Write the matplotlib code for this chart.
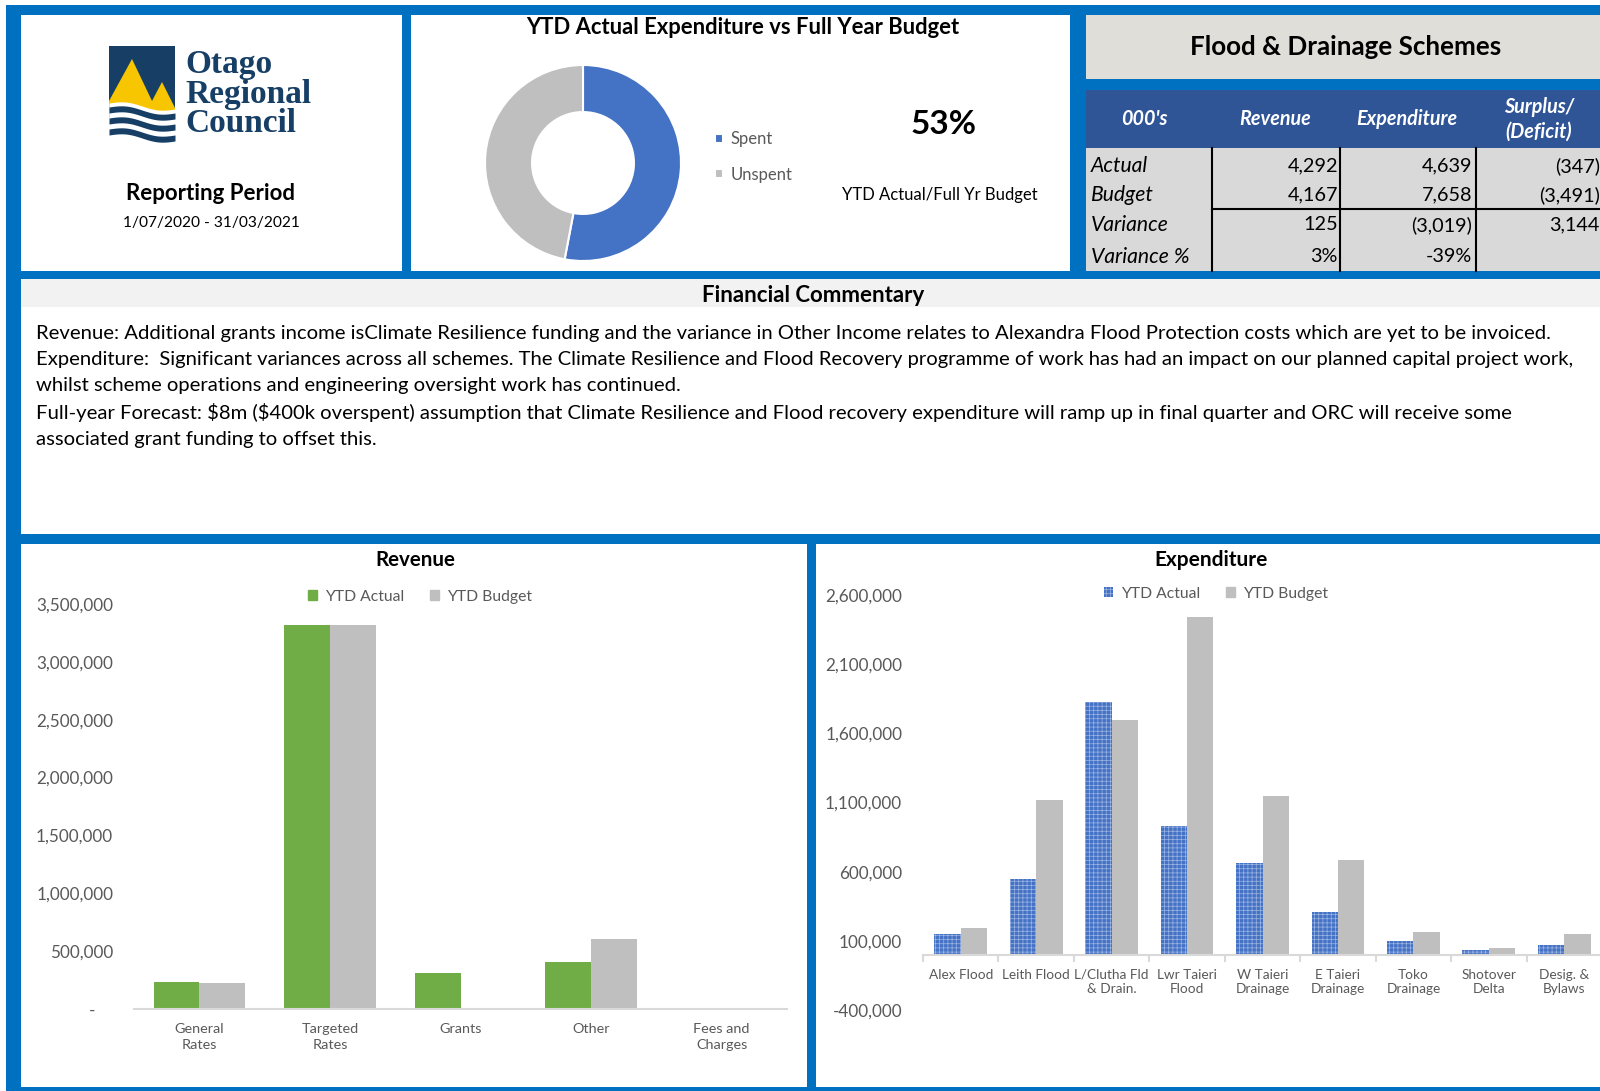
import numpy as np
import matplotlib
import matplotlib.pyplot as plt
from matplotlib.patches import Rectangle, Polygon, Patch
from matplotlib.ticker import FuncFormatter

plt.rcParams['font.family'] = ['Lato', 'DejaVu Sans']
plt.rcParams['hatch.linewidth'] = 0.5

W, H = 1600, 1091

# YTD spend against full year budget
spent_pct = 53
donut_labels = ['Spent', 'Unspent']

# summary table, 000's
table_cols = ["000's", 'Revenue', 'Expenditure', 'Surplus/\n(Deficit)']
table_rows = ['Actual', 'Budget', 'Variance', 'Variance %']
revenue_col = ['4,292', '4,167', '125', '3%']
expenditure_col = ['4,639', '7,658', '(3,019)', '-39%']
surplus_col = ['(347)', '(3,491)', '3,144', '']

# revenue by source
rev_cats = ['General\nRates', 'Targeted\nRates', 'Grants', 'Other', 'Fees and\nCharges']
rev_actual = [231000, 3321000, 307000, 404000, 0]
rev_budget = [229000, 3315000, 0, 601000, 0]

# expenditure by scheme
exp_cats = ['Alex Flood', 'Leith Flood', 'L/Clutha Fld\n& Drain.', 'Lwr Taieri\nFlood',
            'W Taieri\nDrainage', 'E Taieri\nDrainage', 'Toko\nDrainage', 'Shotover\nDelta',
            'Desig. &\nBylaws']
exp_actual = [148000, 548000, 1828000, 932000, 661000, 312000, 98000, 33000, 73000]
exp_budget = [192000, 1117000, 1694000, 2444000, 1148000, 683000, 163000, 49000, 146000]

commentary = [
    "Revenue: Additional grants income isClimate Resilience funding and the variance in Other Income relates to Alexandra Flood Protection costs which are yet to be invoiced.",
    "Expenditure:  Significant variances across all schemes. The Climate Resilience and Flood Recovery programme of work has had an impact on our planned capital project work,",
    "whilst scheme operations and engineering oversight work has continued.",
    "Full-year Forecast: $8m ($400k overspent) assumption that Climate Resilience and Flood recovery expenditure will ramp up in final quarter and ORC will receive some",
    "associated grant funding to offset this.",
]

BLUE = '#0070C0'
GREEN = '#70AD47'
GREY = '#BFBFBF'
SPENT = '#4472C4'
NAVY = '#173F66'
LABEL = '#595959'

fig = plt.figure(figsize=(16, 10.91), dpi=100)


def px_axes(x0, y0, x1, y1):
    return fig.add_axes([x0 / W, 1 - y1 / H, (x1 - x0) / W, (y1 - y0) / H])


bg = fig.add_axes([0, 0, 1, 1])
bg.set_xlim(0, W)
bg.set_ylim(H, 0)
bg.axis('off')


def box(x0, y0, x1, y1, color):
    bg.add_patch(Rectangle((x0, y0), x1 - x0, y1 - y0, facecolor=color, edgecolor='none'))


# frame and panels
box(6, 5, W, H, BLUE)
box(21, 15, 402, 271, 'white')
box(411, 15, 1070, 271, 'white')
box(1086, 15, W, 79, '#E0DED8')
box(1086, 90, W, 148, '#2F5597')
box(1086, 148, W, 271, '#D9D9D9')
box(21, 279, W, 534, 'white')
box(21, 279, W, 307, '#F2F2F2')
box(21, 544, 807, 1087, 'white')
box(816, 544, W, 1087, 'white')

# logo
box(109, 46, 175, 112, NAVY)
bg.add_patch(Polygon([(109, 101), (132, 59), (152, 101), (162, 82), (175, 108),
                      (175, 118), (109, 118)], closed=True, facecolor='#F7C600',
                     edgecolor='none'))
xs = np.linspace(109, 175, 80)
s = (xs - 109) / 66


def wave(base):
    return base + 6 * s - 2.5 * np.sin(2 * np.pi * s)


bg.fill_between(xs, wave(103), 150, color='white', lw=0)
for top in (107, 118, 129):
    bg.fill_between(xs, wave(top), wave(top + 6), color=NAVY, lw=0)
for i, word in enumerate(['Otago', 'Regional', 'Council']):
    bg.text(185, 64 + i * 30, word, fontfamily='Liberation Serif', fontweight='bold',
            fontsize=24, color=NAVY, va='center', ha='left')

bg.text(211, 194, 'Reporting Period', fontsize=16, fontweight='bold', ha='center', va='center')
bg.text(211, 223, '1/07/2020 - 31/03/2021', fontsize=11.2, ha='center', va='center')

# donut
bg.text(743, 28, 'YTD Actual Expenditure vs Full Year Budget', fontsize=15.8,
        fontweight='bold', ha='center', va='center')
ax_d = px_axes(485, 65, 681, 261)
wedges, _ = ax_d.pie([spent_pct, 100 - spent_pct], colors=[SPENT, GREY], startangle=90,
                     counterclock=False,
                     wedgeprops=dict(width=0.48, edgecolor='white', linewidth=1.5))
ax_d.set_xlim(-1, 1)
ax_d.set_ylim(-1, 1)
ax_d.legend(wedges, donut_labels, loc='center left', bbox_to_anchor=(715, 157),
            bbox_transform=bg.transData, frameon=False, fontsize=12, labelcolor=LABEL,
            handlelength=0.5, handleheight=0.5, handletextpad=0.45, labelspacing=1.15,
            borderpad=0, borderaxespad=0)
bg.text(944, 124, f'{spent_pct}%', fontsize=24, fontweight='bold', ha='center', va='center')
bg.text(940, 195, 'YTD Actual/Full Yr Budget', fontsize=12, ha='center', va='center')

# summary table
bg.text(1346, 47, 'Flood & Drainage Schemes', fontsize=18.7, fontweight='bold',
        ha='center', va='center')
col_x = [1144, 1275, 1407, 1539]
for x, name in zip(col_x, table_cols):
    bg.text(x, 119, name, fontsize=14.2, fontweight='bold', fontstyle='italic', color='white',
            ha='center', va='center', linespacing=1.3)
row_y = [166, 195, 225, 257]
for y, name in zip(row_y, table_rows):
    bg.text(1091, y, name, fontsize=15.2, fontstyle='italic', ha='left', va='center')
for right, col in zip([1338, 1472, 1600], [revenue_col, expenditure_col, surplus_col]):
    for y, val in zip(row_y, col):
        bg.text(right, y, val, fontsize=14.3, ha='right', va='center')
for x in (1212, 1340, 1476):
    bg.plot([x, x], [148, 271], color='black', lw=1.5)
bg.plot([1212, W], [209, 209], color='black', lw=1.5)

# commentary
bg.text(813, 295, 'Financial Commentary', fontsize=16, fontweight='bold', ha='center', va='center')
for i, line in enumerate(commentary):
    bg.text(36, 333 + i * 26.5, line, fontsize=14.6, ha='left', va='center', parse_math=False)


def style_axis(ax, xsize, spacing):
    for side in ('left', 'top', 'right'):
        ax.spines[side].set_visible(False)
    ax.spines['bottom'].set_color('#D9D9D9')
    ax.spines['bottom'].set_linewidth(1.5)
    ax.set_facecolor('none')
    ax.tick_params(axis='y', length=0, pad=15, labelsize=12.3, labelcolor=LABEL)
    ax.tick_params(axis='x', length=0, pad=10, labelsize=xsize, labelcolor=LABEL)
    for lab in ax.get_xticklabels():
        lab.set_linespacing(spacing)


# revenue chart
bg.text(415, 560, 'Revenue', fontsize=14.8, fontweight='bold', ha='center', va='center')
ax_r = px_axes(134, 604, 787, 1009)
xr = np.arange(len(rev_cats))
ax_r.bar(xr - 0.175, rev_actual, 0.35, color=GREEN)
ax_r.bar(xr + 0.175, rev_budget, 0.35, color=GREY)
ax_r.set_xlim(-0.5, len(rev_cats) - 0.5)
ax_r.set_ylim(0, 3500000)
ax_r.set_yticks(np.arange(0, 3500001, 500000))
ax_r.yaxis.set_major_formatter(FuncFormatter(lambda v, p: '-    ' if v == 0 else f'{v:,.0f}'))
ax_r.set_xticks(xr, rev_cats)
style_axis(ax_r, 10.4, 1.4)
ax_r.legend([Patch(color=GREEN), Patch(color=GREY)], ['YTD Actual', 'YTD Budget'],
            loc='center', bbox_to_anchor=(420, 597), bbox_transform=bg.transData, ncol=2,
            frameon=False, fontsize=11.3, labelcolor=LABEL, handlelength=0.6, handleheight=0.6,
            handletextpad=0.5, columnspacing=1.6)

# expenditure chart
bg.text(1211, 560, 'Expenditure', fontsize=15, fontweight='bold', ha='center', va='center')
ax_e = px_axes(923, 595, 1602, 1010)
xe = np.arange(len(exp_cats))
ax_e.bar(xe - 0.175, exp_actual, 0.35, color=SPENT, edgecolor='#9DB5E3', hatch='++++', linewidth=0)
ax_e.bar(xe + 0.175, exp_budget, 0.35, color=GREY)
ax_e.set_xlim(-0.5, len(exp_cats) - 0.5)
ax_e.set_ylim(-400000, 2600000)
ax_e.set_yticks(np.arange(-400000, 2600001, 500000))
ax_e.yaxis.set_major_formatter(FuncFormatter(lambda v, p: f'{v:,.0f}'))
ax_e.set_xticks(xe, exp_cats)
ax_e.set_xticks(np.arange(-0.5, len(exp_cats)), minor=True)
style_axis(ax_e, 9.8, 1.55)
ax_e.spines['bottom'].set_position(('data', 0))
ax_e.tick_params(axis='x', which='minor', length=5, color='#D9D9D9', width=1.5)
ax_e.legend([Patch(facecolor=SPENT, edgecolor='#9DB5E3', hatch='++++', linewidth=0),
             Patch(color=GREY)], ['YTD Actual', 'YTD Budget'],
            loc='center', bbox_to_anchor=(1216, 594), bbox_transform=bg.transData, ncol=2,
            frameon=False, fontsize=11.3, labelcolor=LABEL, handlelength=0.6, handleheight=0.6,
            handletextpad=0.5, columnspacing=1.6)

fig.savefig('out.png', dpi=100)
